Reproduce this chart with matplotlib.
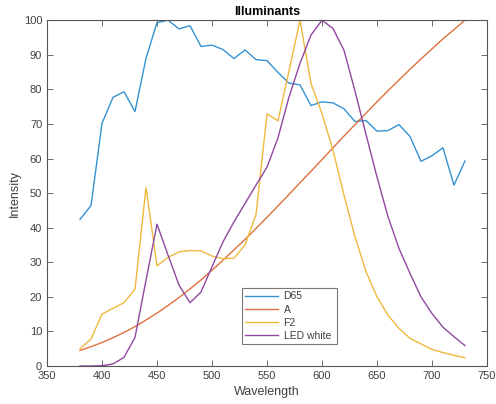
import matplotlib
import matplotlib.pyplot as plt
import numpy as np

''' Illuminant spectra, normalised to a peak of 100 '''

matplotlib.use('Agg')

wavelength = list(range(380, 740, 10))

d65 = [42.4, 46.4, 70.2, 77.7, 79.3, 73.6, 89.0, 99.3, 100.0, 97.5,
       98.4, 92.4, 92.8, 91.5, 88.9, 91.4, 88.6, 88.3, 84.9, 81.8,
       81.3, 75.3, 76.4, 76.1, 74.4, 70.7, 71.0, 67.9, 68.1, 69.8,
       66.4, 59.2, 60.8, 63.1, 52.3, 59.3]

illum_a = [4.5, 5.6, 6.8, 8.2, 9.7, 11.4, 13.3, 15.3, 17.5, 19.8,
           22.3, 24.9, 27.7, 30.6, 33.6, 36.6, 39.8, 43.0, 46.3, 49.6,
           53.0, 56.3, 59.7, 63.1, 66.5, 69.8, 73.1, 76.4, 79.6, 82.7,
           85.8, 88.8, 91.7, 94.6, 97.3, 100.0]

f2 = [5.0, 7.8, 15.0, 16.7, 18.3, 22.2, 51.6, 29.0, 31.4, 33.0,
      33.4, 33.3, 31.8, 31.0, 31.2, 35.0, 43.8, 72.9, 70.9, 85.3,
      100.0, 81.7, 73.0, 62.4, 49.4, 37.4, 27.3, 20.0, 14.7, 10.9,
      8.0, 6.4, 4.8, 3.9, 3.1, 2.4]

led_white = [0.0, 0.0, 0.1, 0.6, 2.5, 8.3, 24.8, 41.0, 32.1, 23.4,
             18.3, 21.4, 28.7, 35.9, 41.7, 47.0, 52.3, 57.5, 66.0, 77.8,
             87.5, 95.7, 100.0, 97.6, 91.3, 79.5, 67.0, 54.7, 43.2, 34.0,
             26.8, 20.0, 15.2, 11.2, 8.5, 5.9]

names = ['D65', 'A', 'F2', 'LED white']
colors = ['#3592d2', '#e0703f', '#efb93c', '#9048a0']

plt.rcParams['font.family'] = ['Liberation Sans', 'DejaVu Sans']

fig = plt.figure(figsize=(4.96, 4.04), dpi=100)
ax = fig.add_axes([0.0948, 0.094, 0.887, 0.856])

for series, name, col in zip([d65, illum_a, f2, led_white], names, colors):
    ax.plot(wavelength, series, color=col, linewidth=1.0, label=name)

ax.set_xlim(350, 750)
ax.set_ylim(0, 100)
ax.set_xticks(np.arange(350, 751, 50))
ax.set_yticks(np.arange(0, 101, 10))

edge = '#404040'
for sp in ax.spines.values():
    sp.set_color('#555555')
    sp.set_linewidth(0.8)
ax.tick_params(direction='in', top=True, right=True, length=4, width=0.6,
               colors='#555555', labelsize=8, labelcolor=edge)

ax.set_title('Illuminants', fontsize=9, fontweight='bold', pad=4)
ax.set_xlabel('Wavelength', fontsize=9, color=edge, labelpad=4)
ax.set_ylabel('Intensity', fontsize=9, color=edge, labelpad=2)

leg = ax.legend(loc='lower left', bbox_to_anchor=(0.443, 0.064, 0.216, 0.159),
                mode='expand', fontsize=7.5, frameon=True, fancybox=False,
                borderpad=0.3, labelspacing=0.3, handlelength=3.2,
                handletextpad=0.5, borderaxespad=0)
leg.get_frame().set_edgecolor('#555555')
leg.get_frame().set_linewidth(0.8)
for t in leg.get_texts():
    t.set_color(edge)

fig.savefig('out.png', dpi=100)
